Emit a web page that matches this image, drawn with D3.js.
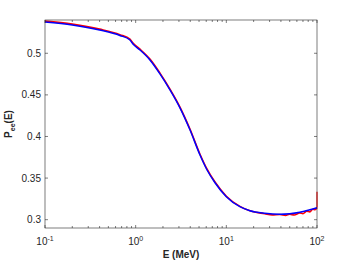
<!DOCTYPE html>
<html>
<head>
<meta charset="utf-8">
<script src="https://cdn.jsdelivr.net/npm/d3@7"></script>
<style>
  html, body { margin: 0; padding: 0; background: #fff; }
  svg { display: block; font-family: "Liberation Sans", Arial, sans-serif; }
</style>
</head>
<body>
<svg id="chart" width="351" height="263"></svg>
<script>
// energies (MeV) and survival probability
const blueE = [0.1, 0.2, 0.4, 0.67, 0.865, 0.934, 1.115, 1.437, 1.853, 2.39, 3.08, 3.97, 5.11, 6.11, 7.5, 10, 14.1, 18.2, 26.5, 38.9, 50, 64.6, 83.3, 100];
const blueP = [0.5376, 0.534, 0.528, 0.5214, 0.516, 0.5112, 0.504, 0.492, 0.4752, 0.456, 0.4344, 0.408, 0.378, 0.36, 0.3444, 0.3276, 0.3156, 0.3108, 0.3078, 0.3066, 0.3072, 0.309, 0.312, 0.3144];

const redE = [0.1, 0.2, 0.4, 0.67, 0.865, 0.934, 1.115, 1.437, 1.853, 2.39, 3.08, 3.97, 5.11, 6.11, 7.5, 10, 14.1, 18.2, 26.5, 32, 38.9, 45, 50, 56, 64.6, 70, 77, 83.3, 90, 95, 100, 100];
const redP = [0.5386, 0.535, 0.529, 0.5224, 0.517, 0.5122, 0.505, 0.493, 0.4762, 0.457, 0.4354, 0.409, 0.379, 0.361, 0.3452, 0.3282, 0.316, 0.3106, 0.3072, 0.3058, 0.3062, 0.3052, 0.3066, 0.3056, 0.308, 0.3072, 0.3102, 0.3094, 0.3126, 0.312, 0.3146, 0.3336];

const xTicks = [0.1, 1, 10, 100];
const xTickExp = ['-1', '0', '1', '2'];
const yTicks = [0.3, 0.35, 0.4, 0.45, 0.5];
const yTickLabels = ['0.3', '0.35', '0.4', '0.45', '0.5'];

const margin = { top: 20, right: 34, bottom: 35, left: 45 };
const W = 351, H = 263;
const width = W - margin.left - margin.right;
const height = H - margin.top - margin.bottom;

const svg = d3.select('#chart');
const g = svg.append('g').attr('transform', `translate(${margin.left},${margin.top})`);

const x = d3.scaleLog().domain([0.1, 100]).range([0, width]);
const y = d3.scaleLinear().domain([0.29, 0.54]).range([height, 0]);

const axisColor = '#262626';
const minor = [];
for (let d = 0.1; d < 100; d *= 10) {
  for (let k = 2; k <= 9; k++) minor.push(d * k);
}

// lines (smooth in screen space)
const smooth = d3.line().x(d => x(d[0])).y(d => y(d[1])).curve(d3.curveMonotoneX);
const straight = d3.line().x(d => x(d[0])).y(d => y(d[1]));
const redPts = redE.map((e, i) => [e, redP[i]]);
g.append('path')
  .datum(redPts.slice(0, -1))
  .attr('fill', 'none').attr('stroke', '#ff0000').attr('stroke-width', 1.6)
  .attr('d', smooth);
// jump at the last energy
g.append('path')
  .datum(redPts.slice(-2))
  .attr('fill', 'none').attr('stroke', '#ff0000').attr('stroke-width', 1.2)
  .attr('d', straight);
g.append('path')
  .datum(blueE.map((e, i) => [e, blueP[i]]))
  .attr('fill', 'none').attr('stroke', '#0000ff').attr('stroke-width', 1.5)
  .attr('d', smooth);

// box
g.append('rect')
  .attr('x', 0).attr('y', 0).attr('width', width).attr('height', height)
  .attr('fill', 'none').attr('stroke', axisColor).attr('stroke-width', 0.6);

// ticks point inward, on all four sides
const tickG = g.append('g').attr('stroke', axisColor).attr('stroke-width', 0.6);
xTicks.forEach(t => {
  tickG.append('line').attr('x1', x(t)).attr('x2', x(t)).attr('y1', height).attr('y2', height - 3);
  tickG.append('line').attr('x1', x(t)).attr('x2', x(t)).attr('y1', 0).attr('y2', 3);
});
minor.forEach(t => {
  tickG.append('line').attr('x1', x(t)).attr('x2', x(t)).attr('y1', height).attr('y2', height - 2);
  tickG.append('line').attr('x1', x(t)).attr('x2', x(t)).attr('y1', 0).attr('y2', 2);
});
yTicks.forEach(t => {
  tickG.append('line').attr('x1', 0).attr('x2', 3).attr('y1', y(t)).attr('y2', y(t));
  tickG.append('line').attr('x1', width).attr('x2', width - 3).attr('y1', y(t)).attr('y2', y(t));
});

// tick labels
yTicks.forEach((t, i) => {
  g.append('text')
    .attr('x', -4).attr('y', y(t)).attr('dy', '0.35em')
    .attr('text-anchor', 'end').attr('font-size', 10).attr('fill', axisColor)
    .text(yTickLabels[i]);
});
xTicks.forEach((t, i) => {
  const txt = g.append('text')
    .attr('x', x(t)).attr('y', height + 17)
    .attr('text-anchor', 'middle').attr('font-size', 10).attr('fill', axisColor);
  txt.append('tspan').text('10');
  txt.append('tspan').attr('dy', -4).attr('font-size', 7).text(xTickExp[i]);
});

// axis labels
g.append('text')
  .attr('x', width / 2).attr('y', height + 30)
  .attr('text-anchor', 'middle').attr('font-size', 10).attr('font-weight', 'bold').attr('fill', axisColor)
  .text('E (MeV)');

const yl = svg.append('text')
  .attr('transform', `translate(12,${margin.top + height / 2}) rotate(-90)`)
  .attr('text-anchor', 'middle').attr('font-size', 10).attr('font-weight', 'bold').attr('fill', axisColor);
yl.append('tspan').text('P');
yl.append('tspan').attr('dy', 3).attr('font-size', 7).text('ee');
yl.append('tspan').attr('dy', -3).text('(E)');
</script>
</body>
</html>
